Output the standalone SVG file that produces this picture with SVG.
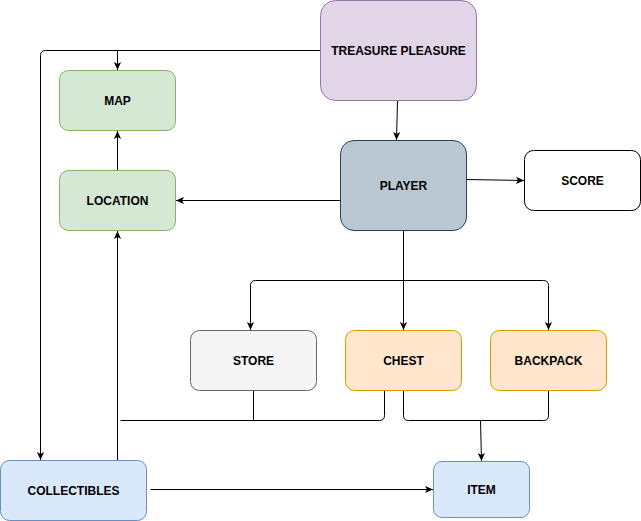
<svg xmlns="http://www.w3.org/2000/svg" width="641" height="521" viewBox="0 0 641 521">
<style>
.t{font-family:"Liberation Sans",Arial,sans-serif;font-size:12px;font-weight:bold;fill:#000;text-anchor:middle}
.c{fill:none;stroke:#000;stroke-width:1}
.green{fill:#d5e8d4;stroke:#82b366}
.purple{fill:#e1d5e7;stroke:#9673a6}
.slate{fill:#bac8d3;stroke:#23445d}
.white{fill:#fff;stroke:#000}
.grey{fill:#f5f5f5;stroke:#666}
.orange{fill:#ffe6cc;stroke:#d79b00}
.blue{fill:#dae8fc;stroke:#6c8ebf}
</style>
<defs>
<marker id="a" viewBox="0 0 10 10" refX="10" refY="5" markerWidth="8" markerHeight="8" markerUnits="userSpaceOnUse" orient="auto">
<path d="M0,0.5 L10,5 L0,9.5 L2.5,5 z" fill="#000"/>
</marker>
</defs>
<rect width="641" height="521" fill="#fff"/>
<g id="connectors">
<path class="c" d="M320.5,50.5 H45.5 Q40.5,50.5 40.5,55.5 V460" marker-end="url(#a)"/>
<path class="c" d="M117.5,50.5 V70" marker-end="url(#a)"/>
<path class="c" d="M397.5,100.5 L396.5,140" marker-end="url(#a)"/>
<path class="c" d="M466.5,179.5 L524,180.5" marker-end="url(#a)"/>
<path class="c" d="M340.5,200.5 H176" marker-end="url(#a)"/>
<path class="c" d="M117.5,170.5 V131" marker-end="url(#a)"/>
<path class="c" d="M117.5,460.5 V231" marker-end="url(#a)"/>
<path class="c" d="M403.5,230.5 V330" marker-end="url(#a)"/>
<path class="c" d="M403.5,280.5 H255.5 Q250.5,280.5 250.5,285.5 V330" marker-end="url(#a)"/>
<path class="c" d="M403.5,280.5 H543.5 Q548.5,280.5 548.5,285.5 V330" marker-end="url(#a)"/>
<path class="c" d="M253.5,390.5 V420.5"/>
<path class="c" d="M120.5,420.5 H379.5 Q384.5,420.5 384.5,415.5 V390.5"/>
<path class="c" d="M403.5,390.5 V415.5 Q403.5,420.5 408.5,420.5 H543.5 Q548.5,420.5 548.5,415.5 V390.5"/>
<path class="c" d="M480.5,420.5 L481.5,461" marker-end="url(#a)"/>
<path class="c" d="M150.5,489.5 H433" marker-end="url(#a)"/>
</g>
<g id="treasure"><rect class="purple" x="320.5" y="0.5" width="156" height="100" rx="15"/><text class="t" x="398.5" y="54.5">TREASURE PLEASURE</text></g>
<g id="map"><rect class="green" x="59.5" y="70.5" width="116" height="60" rx="9"/><text class="t" x="117.5" y="104.5">MAP</text></g>
<g id="location"><rect class="green" x="59.5" y="170.5" width="116" height="60" rx="9"/><text class="t" x="117.5" y="204.5">LOCATION</text></g>
<g id="player"><rect class="slate" x="340.5" y="140.5" width="126" height="90" rx="13.5"/><text class="t" x="403.5" y="189.5">PLAYER</text></g>
<g id="score"><rect class="white" x="524.5" y="150.5" width="116" height="60" rx="9"/><text class="t" x="582.5" y="184.5">SCORE</text></g>
<g id="store"><rect class="grey" x="190.5" y="330.5" width="126" height="60" rx="9"/><text class="t" x="253.5" y="364.5">STORE</text></g>
<g id="chest"><rect class="orange" x="345.5" y="330.5" width="116" height="60" rx="9"/><text class="t" x="403.5" y="364.5">CHEST</text></g>
<g id="backpack"><rect class="orange" x="490.5" y="330.5" width="116" height="60" rx="9"/><text class="t" x="548.5" y="364.5">BACKPACK</text></g>
<g id="collectibles"><rect class="blue" x="0.5" y="460.5" width="146" height="60" rx="9"/><text class="t" x="73.5" y="494.5">COLLECTIBLES</text></g>
<g id="item"><rect class="blue" x="433.5" y="461.5" width="96" height="56" rx="8.4"/><text class="t" x="481.5" y="493.5">ITEM</text></g>
</svg>
